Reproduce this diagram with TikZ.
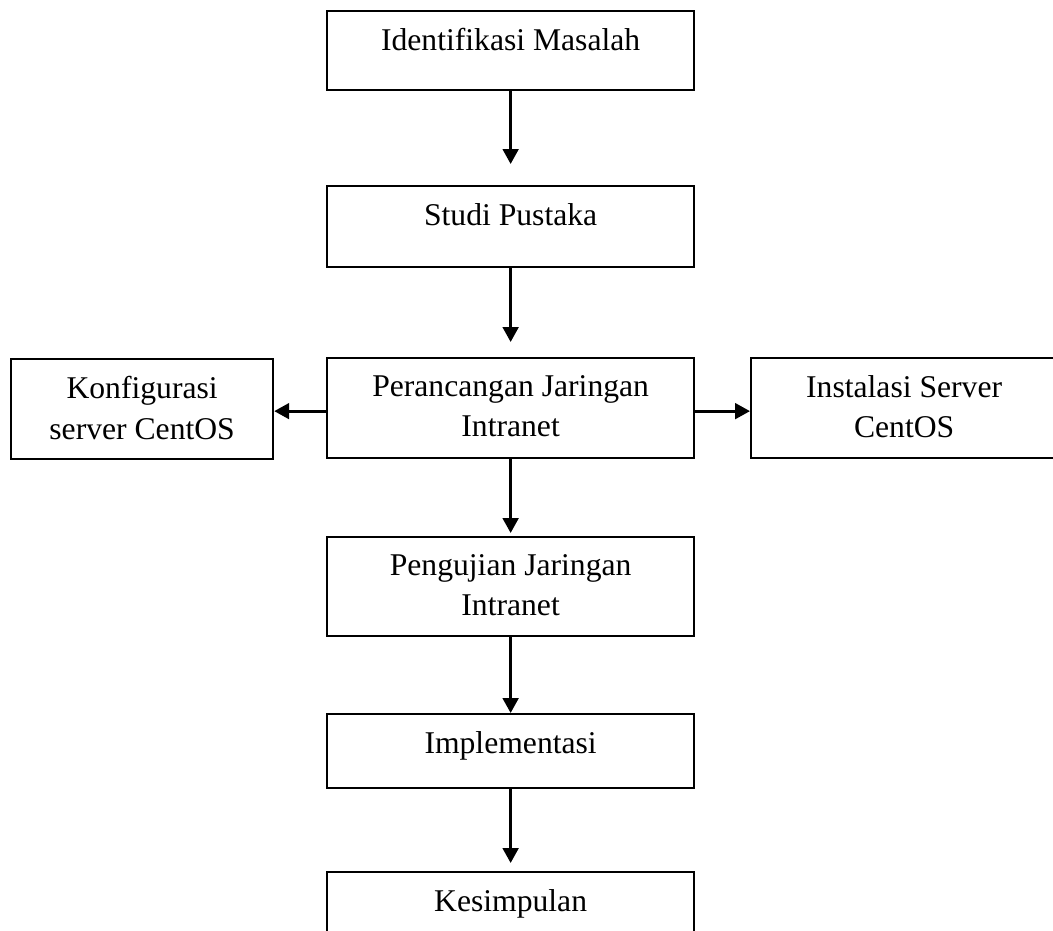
\documentclass[tikz,border=0pt]{standalone}
\usepackage{fontspec}
\setmainfont{Liberation Serif}
\usetikzlibrary{calc, positioning}
\usetikzlibrary{arrows.meta}

\begin{document}
\begin{tikzpicture}[x=0.025cm,y=-0.025cm,
    box/.style={draw, line width=1.6pt, rectangle, inner sep=0pt, anchor=north west},
    lbl/.style={align=center, inner sep=0pt, font=\fontsize{22.5}{28.5}\selectfont},
    flow/.style={line width=2pt, -{Triangle[width=11pt,length=10.5pt]}}]
\def\px{0.025cm}
\def\colW{367}
\useasboundingbox (0,0) rectangle (1053,930);
\clip (0,0) rectangle (1053,930);

% Main column boxes
\node[box, minimum width=\colW*\px, minimum height=79*\px]  (idm) at (326,10)  {};
\node[box, minimum width=\colW*\px, minimum height=81*\px]  (stp) at (326,185) {};
\node[box, minimum width=\colW*\px, minimum height=100*\px] (prc) at (326,357) {};
\node[box, minimum width=\colW*\px, minimum height=99*\px]  (pgj) at (326,536) {};
\node[box, minimum width=\colW*\px, minimum height=74*\px]  (imp) at (326,713) {};
\node[box, minimum width=\colW*\px, minimum height=80*\px]  (ksp) at (326,871) {};

% Side boxes
\node[box, minimum width=262*\px, minimum height=100*\px] (kfg) at (10,358)  {};
\node[box, minimum width=306*\px, minimum height=100*\px] (ins) at (750,357) {};

% Box texts
\node[lbl, below=0.46cm of idm.north] (idmT) {Identifikasi Masalah};
\node[lbl, below=0.46cm of stp.north] (stpT) {Studi Pustaka};
\node[lbl, below=0.46cm of prc.north] (prcT) {Perancangan Jaringan\\Intranet};
\node[lbl, below=0.46cm of pgj.north] (pgjT) {Pengujian Jaringan\\Intranet};
\node[lbl, below=0.46cm of imp.north] (impT) {Implementasi};
\node[lbl, below=0.46cm of ksp.north] (kspT) {Kesimpulan};
\node[lbl, below=0.46cm of kfg.north] (kfgT) {Konfigurasi\\server CentOS};
\node[lbl, below=0.46cm of ins.north] (insT) {Instalasi Server\\CentOS};

% Side arrow start points
\coordinate (prcW) at ($(prc.west)+(0,3)$);
\coordinate (prcE) at ($(prc.east)+(0,3)$);

% Flow arrows
\draw[flow, shorten >=0.525cm] (idm.south) -- (stp.north);
\draw[flow, shorten >=0.375cm] (stp.south) -- (prc.north);
\draw[flow, shorten >=0.075cm] (prc.south) -- (pgj.north);
\draw[flow] (pgj.south) -- (imp.north);
\draw[flow, shorten >=0.2cm] (imp.south) -- (ksp.north);
\draw[flow] (prcW) -- (prcW -| kfg.east);
\draw[flow] (prcE) -- (prcE -| ins.west);
\end{tikzpicture}
\end{document}
